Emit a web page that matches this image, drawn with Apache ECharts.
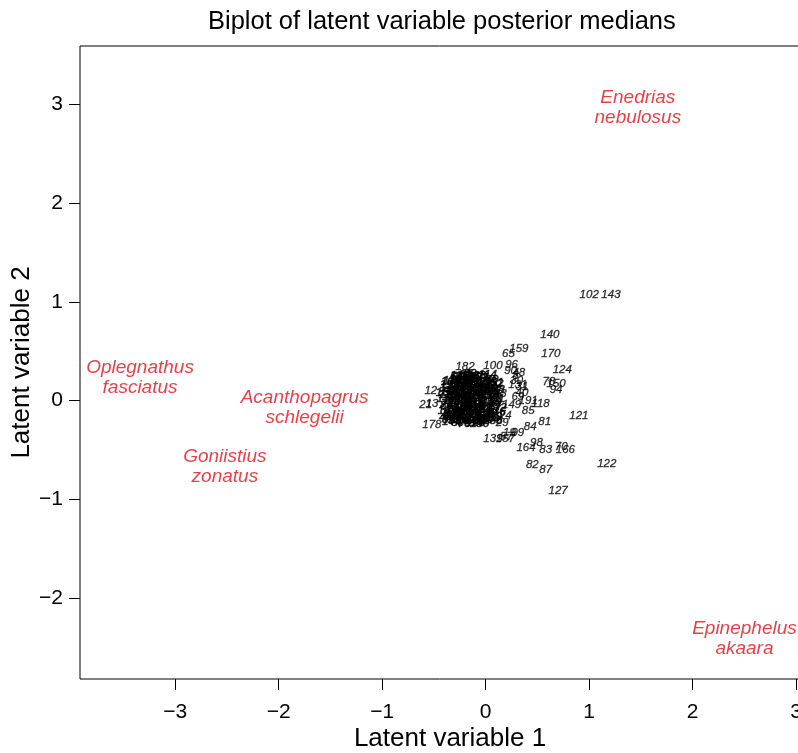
<!DOCTYPE html>
<html>
<head>
<meta charset="utf-8">
<title>Biplot of latent variable posterior medians</title>
<script src="https://cdn.jsdelivr.net/npm/echarts@6/dist/echarts.min.js"></script>
<style>
  html, body { margin: 0; padding: 0; background: #fff; }
  #chart { width: 798px; height: 753px; }
</style>
</head>
<body>
<div id="chart"></div>
<script>
// tick positions on both axes
const xTicks = [-3, -2, -1, 0, 1, 2, 3];
const yTicks = [-2, -1, 0, 1, 2, 3];

// species (red labels)
const speciesNames = ['Enedrias\nnebulosus', 'Oplegnathus\nfasciatus', 'Acanthopagrus\nschlegelii', 'Goniistius\nzonatus', 'Epinephelus\nakaara'];
const speciesLV1 = [1.47, -3.34, -1.75, -2.52, 2.50];
const speciesLV2 = [2.96, 0.23, -0.07, -0.67, -2.41];

// sites that sit away from the main cloud
const outerIds = [
  12, 13, 21, 63, 65, 70, 78, 81, 82, 83,
  84, 85, 87, 94, 96, 98, 100, 102, 118, 121,
  122, 124, 127, 131, 139, 140, 143, 149, 150, 157,
  159, 164, 166, 170, 178, 182, 191,
  8, 19, 24, 29, 30, 31, 40, 48, 57, 69, 90, 99
];
const outerLV1 = [
  -0.53, -0.52, -0.58, 0.14, 0.22, 0.73, 0.61, 0.57, 0.45, 0.58,
  0.43, 0.41, 0.58, 0.68, 0.25, 0.49, 0.07, 1.00, 0.53, 0.90,
  1.17, 0.74, 0.70, 0.31, 0.07, 0.62, 1.21, 0.25, 0.68, 0.19,
  0.32, 0.39, 0.77, 0.63, -0.52, -0.20, 0.41,
  0.29, 0.23, 0.19, 0.16, 0.30, 0.35, 0.35, 0.32, 0.20, 0.31, 0.24, 0.31
];
const outerLV2 = [
  0.10, -0.03, -0.04, 0.07, 0.47, -0.47, 0.19, -0.22, -0.65, -0.50,
  -0.27, -0.10, -0.70, 0.11, 0.36, -0.43, 0.35, 1.07, -0.03, -0.15,
  -0.64, 0.31, -0.91, 0.16, -0.39, 0.67, 1.07, -0.04, 0.17, -0.39,
  0.52, -0.48, -0.50, 0.47, -0.25, 0.34, 0.00,
  0.25, -0.33, -0.15, -0.23, 0.20, 0.14, 0.08, 0.28, -0.37, 0.04, 0.30, -0.33
];

// sites in the dense central cloud
const coreIds = [
  1, 2, 3, 4, 5, 6, 7, 9, 10, 11,
  14, 15, 16, 17, 18, 20, 22, 23, 25, 26,
  27, 28, 32, 33, 34, 35, 36, 37, 38, 39,
  41, 42, 43, 44, 45, 46, 47, 49, 50, 51,
  52, 53, 54, 55, 56, 58, 59, 60, 61, 62,
  64, 66, 67, 68, 71, 72, 73, 74, 75, 76,
  77, 79, 80, 86, 88, 89, 91, 92, 93, 95,
  97, 101, 103, 104, 105, 106, 107, 108, 109, 110,
  111, 112, 113, 114, 115, 116, 117, 119, 120, 123,
  125, 126, 128, 129, 130, 132, 133, 134, 135, 136,
  137, 138, 141, 142, 144, 145, 146, 147, 148, 151,
  152, 153, 154, 155, 156, 158, 160, 161, 162, 163,
  165, 167, 168, 169, 171, 172, 173, 174, 175, 176,
  177, 179, 180, 181, 183, 184, 185, 186, 187, 188,
  189, 190
];
const coreLV1 = [
  -0.21, -0.05, -0.30, 0.02, -0.14, -0.26, 0.06, -0.10, -0.33, -0.18,
  -0.38, -0.08, -0.22, 0.09, -0.29, -0.02, -0.35, -0.12, 0.04, -0.25,
  -0.16, -0.31, 0.11, -0.06, -0.20, -0.36, 0.00, -0.27, -0.11, -0.15,
  -0.24, 0.07, -0.32, -0.04, -0.19, -0.09, -0.39, 0.05, -0.13, -0.28,
  -0.01, -0.23, -0.35, -0.17, 0.10, -0.07, -0.27, -0.20, 0.03, -0.34,
  -0.10, -0.29, 0.08, -0.18, -0.03, -0.37, -0.14, -0.25, 0.01, -0.21,
  -0.31, -0.11, 0.06, -0.24, -0.16, -0.38, 0.12, -0.06, -0.30, -0.19,
  -0.02, -0.26, -0.12, 0.04, -0.34, -0.08, -0.20, 0.09, -0.29, -0.15,
  -0.22, -0.04, -0.33, 0.02, -0.17, -0.10, -0.27, 0.07, -0.36, -0.13,
  -0.23, 0.00, -0.31, -0.09, -0.18, 0.05, -0.38, -0.14, -0.25, 0.10,
  -0.07, -0.28, -0.19, 0.03, -0.33, -0.11, -0.01, -0.24, -0.16, 0.08,
  -0.35, -0.05, -0.21, -0.30, 0.01, -0.13, -0.26, -0.08, 0.06, -0.37,
  -0.17, -0.03, -0.28, -0.10, -0.22, 0.11, -0.34, -0.15, 0.04, -0.24,
  -0.12, -0.32, -0.06, -0.20, 0.00, -0.27, -0.15, 0.07, -0.39, -0.09,
  -0.23, 0.02
];
const coreLV2 = [
  0.05, -0.12, 0.14, 0.20, -0.02, -0.17, 0.08, 0.22, -0.08, 0.11,
  0.13, 0.02, -0.21, -0.05, 0.21, -0.19, -0.14, 0.16, 0.12, 0.00,
  -0.10, -0.02, 0.17, 0.25, -0.07, -0.20, -0.09, 0.07, -0.16, 0.27,
  0.19, 0.03, 0.04, 0.09, 0.14, -0.22, -0.18, -0.13, 0.06, 0.24,
  0.15, -0.11, 0.09, -0.19, 0.06, -0.04, -0.23, 0.26, -0.17, -0.13,
  0.10, 0.17, -0.09, 0.01, 0.23, -0.03, 0.19, -0.12, -0.01, -0.24,
  0.10, -0.14, 0.21, 0.08, 0.24, -0.05, 0.02, -0.20, -0.21, -0.06,
  0.04, 0.22, -0.07, -0.20, 0.19, 0.13, 0.03, 0.11, -0.10, 0.20,
  -0.15, -0.08, 0.00, 0.26, 0.09, -0.23, 0.14, -0.16, 0.06, -0.01,
  0.07, -0.15, -0.16, 0.18, -0.13, 0.00, 0.02, 0.12, 0.25, -0.11,
  0.23, -0.05, 0.21, 0.07, -0.22, -0.02, -0.18, 0.15, -0.09, 0.18,
  0.16, 0.10, -0.06, 0.06, 0.19, -0.18, -0.20, -0.11, -0.02, -0.10,
  0.01, 0.16, 0.12, -0.21, 0.24, -0.07, -0.12, 0.08, 0.09, -0.19,
  -0.04, 0.20, -0.24, 0.17, -0.06, 0.04, 0.24, -0.21, 0.08, 0.05,
  -0.09, 0.13
];

const fontFamily = '"Liberation Sans", Arial, Helvetica, sans-serif';

const coreData = coreIds.map((id, i) => [coreLV1[i], coreLV2[i], String(id)]);
const outerData = outerIds.map((id, i) => [outerLV1[i], outerLV2[i], String(id)]);
const speciesData = speciesNames.map((name, i) => [speciesLV1[i], speciesLV2[i], name]);

const minusFmt = v => (v < 0 ? '\u2212' + Math.abs(v) : String(v));

const siteLabel = {
  show: true,
  position: 'inside',
  formatter: p => p.data[2],
  fontFamily: fontFamily,
  fontStyle: 'italic',
  fontSize: 11.5,
  color: '#000',
  textBorderColor: '#000',
  textBorderWidth: 0.3
};

const chart = echarts.init(document.getElementById('chart'), null, { renderer: 'canvas' });

const option = {
  backgroundColor: '#ffffff',
  animation: false,
  title: {
    text: 'Biplot of latent variable posterior medians',
    left: 203,
    top: 4,
    textStyle: {
      fontFamily: fontFamily,
      fontSize: 25.5,
      fontWeight: 'normal',
      color: '#000'
    }
  },
  // plot box runs past the right edge of the window, as in the original
  grid: {
    left: 80,
    top: 46,
    bottom: 74,
    right: -22,
    outerBoundsMode: 'none',
    show: true,
    borderColor: '#000',
    borderWidth: 1,
    backgroundColor: 'transparent'
  },
  xAxis: {
    type: 'value',
    min: -3.92,
    max: 3.23,
    name: 'Latent variable 1',
    nameLocation: 'middle',
    nameGap: 47,
    nameMoveOverlap: false,
    nameTextStyle: { fontFamily: fontFamily, fontSize: 26, color: '#000' },
    splitLine: { show: false },
    axisLine: { show: false, onZero: false },
    axisTick: {
      show: true,
      customValues: xTicks,
      length: 11,
      inside: false,
      lineStyle: { color: '#000', width: 1 }
    },
    axisLabel: {
      customValues: xTicks,
      margin: 23,
      fontFamily: fontFamily,
      fontSize: 21,
      color: '#000',
      formatter: minusFmt
    }
  },
  yAxis: {
    type: 'value',
    min: -2.82,
    max: 3.59,
    name: 'Latent variable 2',
    nameLocation: 'middle',
    nameGap: 45,
    nameMoveOverlap: false,
    nameRotate: 90,
    nameTextStyle: { fontFamily: fontFamily, fontSize: 26, color: '#000' },
    splitLine: { show: false },
    axisLine: { show: false, onZero: false },
    axisTick: {
      show: true,
      customValues: yTicks,
      length: 11,
      inside: false,
      lineStyle: { color: '#000', width: 1 }
    },
    axisLabel: {
      customValues: yTicks,
      margin: 17,
      fontFamily: fontFamily,
      fontSize: 21,
      color: '#000',
      formatter: minusFmt
    }
  },
  series: [
    {
      name: 'core sites',
      type: 'scatter',
      data: coreData,
      symbolSize: 1,
      itemStyle: { color: 'rgba(0,0,0,0)' },
      silent: true,
      label: Object.assign({}, siteLabel, { textBorderWidth: 0.6 })
    },
    {
      name: 'outer sites',
      type: 'scatter',
      data: outerData,
      symbolSize: 1,
      itemStyle: { color: 'rgba(0,0,0,0)' },
      silent: true,
      label: siteLabel
    },
    {
      name: 'species',
      type: 'scatter',
      data: speciesData,
      symbolSize: 1,
      itemStyle: { color: 'rgba(0,0,0,0)' },
      silent: true,
      label: {
        show: true,
        position: 'inside',
        formatter: p => p.data[2],
        fontFamily: fontFamily,
        fontStyle: 'italic',
        fontSize: 19,
        lineHeight: 20,
        align: 'center',
        color: '#e3101a'
      }
    }
  ]
};

chart.setOption(option);
</script>
</body>
</html>
